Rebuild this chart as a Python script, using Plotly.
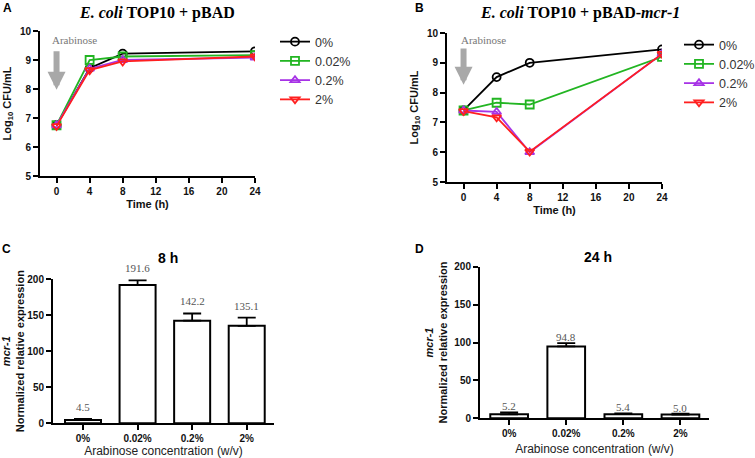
import plotly.graph_objects as go

W, H = 755, 458

# ---------------- data ----------------
time_h = [0, 4, 8, 24]
conc_labels = ["0%", "0.02%", "0.2%", "2%"]

# Panel A: E. coli TOP10 + pBAD (Log10 CFU/mL)
a_0 = [6.75, 8.72, 9.22, 9.30]
a_002 = [6.75, 9.00, 9.12, 9.17]
a_02 = [6.75, 8.70, 9.00, 9.08]
a_2 = [6.72, 8.65, 8.95, 9.12]

# Panel B: E. coli TOP10 + pBAD-mcr-1 (Log10 CFU/mL)
b_0 = [7.40, 8.52, 9.00, 9.45]
b_002 = [7.40, 7.66, 7.60, 9.20]
b_02 = [7.40, 7.35, 6.00, 9.30]
b_2 = [7.38, 7.17, 6.02, 9.30]

# Panel C: 8 h mcr-1 expression
c_vals = [4.5, 191.6, 142.2, 135.1]
c_err = [1.5, 6.5, 10.0, 11.5]

# Panel D: 24 h mcr-1 expression
d_vals = [5.2, 94.8, 5.4, 5.0]
d_err = [2.5, 4.5, 1.0, 1.0]

series_names = ["0%", "0.02%", "0.2%", "2%"]
colors = ["#000000", "#22b522", "#a733e6", "#ff1f1f"]
symbols = ["circle-open", "square-open", "triangle-up-open", "triangle-down-open"]

# ---------------- helpers ----------------
def px_x(p):
    return p / W

def px_y(p):
    return 1 - p / H

fig = go.Figure()

AX_FONT = dict(family="Arial", size=10, color="#111", weight="bold")

def line_axis(**kw):
    d = dict(showline=True, linecolor="black", linewidth=2, ticks="outside",
             ticklen=5, tickwidth=2, tickcolor="black", showgrid=False,
             zeroline=False, tickfont=AX_FONT, mirror=False, automargin=False)
    d.update(kw)
    return d

# ---- line panels ----
for (vals_list, xa, ya, leg) in [
    ([a_0, a_002, a_02, a_2], "x", "y", "legend"),
    ([b_0, b_002, b_02, b_2], "x2", "y2", "legend2"),
]:
    for i, vals in enumerate(vals_list):
        fig.add_trace(go.Scatter(
            x=time_h, y=vals, mode="lines+markers", name=series_names[i],
            xaxis=xa, yaxis=ya, legend=leg,
            line=dict(color=colors[i], width=1.8),
            marker=dict(symbol=symbols[i], size=8, color=colors[i],
                        line=dict(width=1.8, color=colors[i])),
        ))

ann = []

# ---- bar panels ----
for (vals, errs, xa, ya, shift) in [(c_vals, c_err, "x3", "y3", 4),
                                    (d_vals, d_err, "x4", "y4", -2)]:
    fig.add_trace(go.Bar(
        x=conc_labels, y=vals, xaxis=xa, yaxis=ya, showlegend=False,
        width=0.66, marker=dict(color="white", line=dict(color="black", width=2)),
        error_y=dict(type="data", array=errs, arrayminus=[0] * len(errs),
                     symmetric=False, color="black", thickness=1.8, width=9),
    ))
    for c, v, e in zip(conc_labels, vals, errs):
        ann.append(dict(text=f"{v:.1f}", x=c, y=v + e, xref=xa, yref=ya,
                        showarrow=False, xanchor="center", yanchor="bottom", yshift=shift,
                        font=dict(family="Liberation Serif", size=11, color="#555")))

TITLE_FONT = dict(family="Arial", size=11, color="#111", weight="bold")

fig.update_layout(
    width=W, height=H, margin=dict(l=0, r=0, t=0, b=0, autoexpand=False),
    paper_bgcolor="white", plot_bgcolor="white",
    showlegend=True,
    xaxis=line_axis(domain=[px_x(40), px_x(255)], range=[-2, 24], dtick=4, anchor="y",
                    title=dict(text="Time (h)", font=TITLE_FONT, standoff=4)),
    yaxis=line_axis(domain=[px_y(176), px_y(31)], range=[5, 10], dtick=1, anchor="x",
                    title=dict(text="<b>Log<sub>10</sub> CFU/mL</b>", font=TITLE_FONT, standoff=6)),
    xaxis2=line_axis(domain=[px_x(447), px_x(662)], range=[-2, 24], dtick=4, anchor="y2",
                     title=dict(text="Time (h)", font=TITLE_FONT, standoff=4)),
    yaxis2=line_axis(domain=[px_y(182), px_y(33)], range=[5, 10], dtick=1, anchor="x2",
                     title=dict(text="<b>Log<sub>10</sub> CFU/mL</b>", font=TITLE_FONT, standoff=6)),
    xaxis3=line_axis(domain=[px_x(53), px_x(274)], range=[-0.55, 3.5], anchor="y3",
                     type="category",
                     title=dict(text="Arabinose concentration (w/v)",
                                font=dict(family="Arial", size=12, color="#222"), standoff=6)),
    yaxis3=line_axis(domain=[px_y(423.3), px_y(279)], range=[0, 200], dtick=50, anchor="x3",
                     title=dict(text="<i>mcr-1</i><br>Normalized relative expression",
                                font=TITLE_FONT, standoff=4)),
    xaxis4=line_axis(domain=[px_x(480), px_x(709)], range=[-0.51, 3.5], anchor="y4",
                     type="category",
                     title=dict(text="Arabinose concentration (w/v)",
                                font=dict(family="Arial", size=12, color="#222"), standoff=6)),
    yaxis4=line_axis(domain=[px_y(418.3), px_y(266.7)], range=[0, 200], dtick=50, anchor="x4",
                     title=dict(text="<i>mcr-1</i><br>Normalized relative expression",
                                font=TITLE_FONT, standoff=4)),
    legend=dict(x=px_x(275), y=px_y(27), xanchor="left", yanchor="top",
                font=dict(family="Arial", size=12.5, color="#333"), bgcolor="rgba(0,0,0,0)"),
    legend2=dict(x=px_x(679), y=px_y(30), xanchor="left", yanchor="top",
                 font=dict(family="Arial", size=12.5, color="#333"), bgcolor="rgba(0,0,0,0)"),
)

# panel letters
for t, x, y in [("A", 7, 8), ("B", 420, 8), ("C", 6, 249), ("D", 420, 249)]:
    ann.append(dict(text=f"<b>{t}</b>", x=px_x(x), y=px_y(y), xref="paper", yref="paper",
                    showarrow=False, xanchor="center", yanchor="middle",
                    font=dict(family="Arial", size=12, color="black")))
# panel titles
for txt, x, y, fnt in [
    ("<b><i>E. coli</i> TOP10 + pBAD</b>", 157, 13, dict(family="Liberation Serif", size=16, color="black")),
    ("<b><i>E. coli</i> TOP10 + pBAD-<i>mcr-1</i></b>", 580, 13, dict(family="Liberation Serif", size=16, color="black")),
    ("<b>8 h</b>", 168, 258, dict(family="Arial", size=14, color="black")),
    ("<b>24 h</b>", 598, 257, dict(family="Arial", size=14, color="black")),
]:
    ann.append(dict(text=txt, x=px_x(x), y=px_y(y), xref="paper", yref="paper",
                    showarrow=False, xanchor="center", yanchor="middle", font=fnt))
# arabinose arrows
for xr, yr, xt, yt, y_tip, y_tail in [("x", "y", -0.8, 9.69, 7.97, 9.35),
                                      ("x2", "y2", -0.5, 9.76, 8.26, 9.53)]:
    ann.append(dict(text="Arabinose", x=xt, y=yt, xref=xr, yref=yr, showarrow=False,
                    xanchor="left", yanchor="middle",
                    font=dict(family="Liberation Serif", size=11, color="#777")))
    ann.append(dict(text="", x=0, y=y_tip, xref=xr, yref=yr, ax=0, ay=y_tail,
                    axref=xr, ayref=yr, showarrow=True, arrowhead=2, arrowsize=0.6,
                    arrowwidth=6, arrowcolor="#a8a8a8"))
fig.update_layout(annotations=ann)

fig.write_html("out.html", config={"displayModeBar": False},
               post_script="document.body.style.margin='0';")
